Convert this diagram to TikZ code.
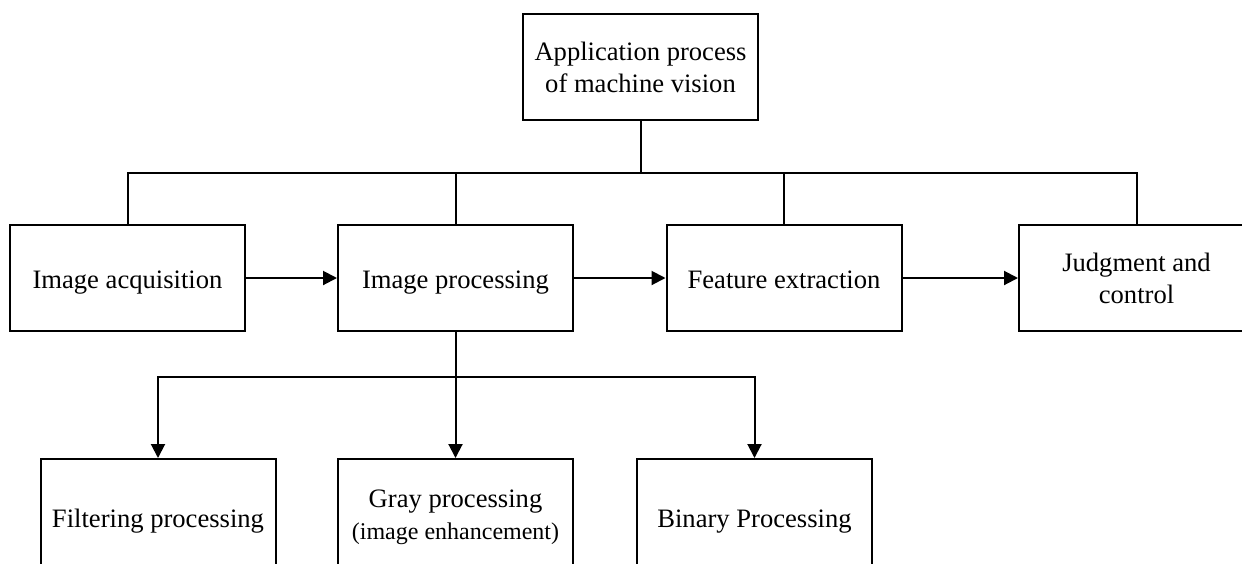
\documentclass[tikz,border=0pt]{standalone}
\usepackage{fontspec}
\setmainfont{Liberation Serif}
\usetikzlibrary{arrows.meta}

\begin{document}
\begin{tikzpicture}[x=0.5pt,y=-0.5pt,line width=1pt,
    stage/.style={draw,minimum width=117.5pt,minimum height=53pt,inner sep=0pt,align=center,
                  font=\fontsize{13.3}{16}\selectfont},
    oneline/.style={text height=10pt,text depth=0pt},
    substage/.style={stage,minimum height=58pt},
    >={Triangle[length=7pt,width=7pt]}]

    \clip (0,0) rectangle (1242,563);

    % main row
    \node [stage] (top)   at (640.5,67)   {Application process\\of machine vision};
    \node [stage,oneline] (acq)   at (127.5,278)  {Image acquisition};
    \node [stage,oneline] (proc)  at (455.5,278)  {Image processing};
    \node [stage,oneline] (feat)  at (784,278)    {Feature extraction};
    \node [stage] (judge) at (1136.5,278) {Judgment and\\control};

    % image processing steps
    \node [substage,oneline] (filt) at (158,517)   {Filtering processing};
    \node [substage] (gray) at (455.5,517) {Gray processing\\{\fontsize{12}{14}\selectfont(image enhancement)}};
    \node [substage,oneline] (bin)  at (754.5,517) {Binary Processing};

    \coordinate (bus)   at (640.5,173);
    \coordinate (split) at (455.5,377);

    \draw (top.south) -- (bus);
    \foreach \b in {acq,proc,feat,judge}{%
        \draw (\b.north) |- (bus);
    }

    \draw [->] (acq)  -- (proc);
    \draw [->] (proc) -- (feat);
    \draw [->] (feat) -- (judge);

    \draw (proc.south) -- (split);
    \foreach \b in {filt,gray,bin}{%
        \draw [->] (split) -| (\b.north);
    }

\end{tikzpicture}
\end{document}
